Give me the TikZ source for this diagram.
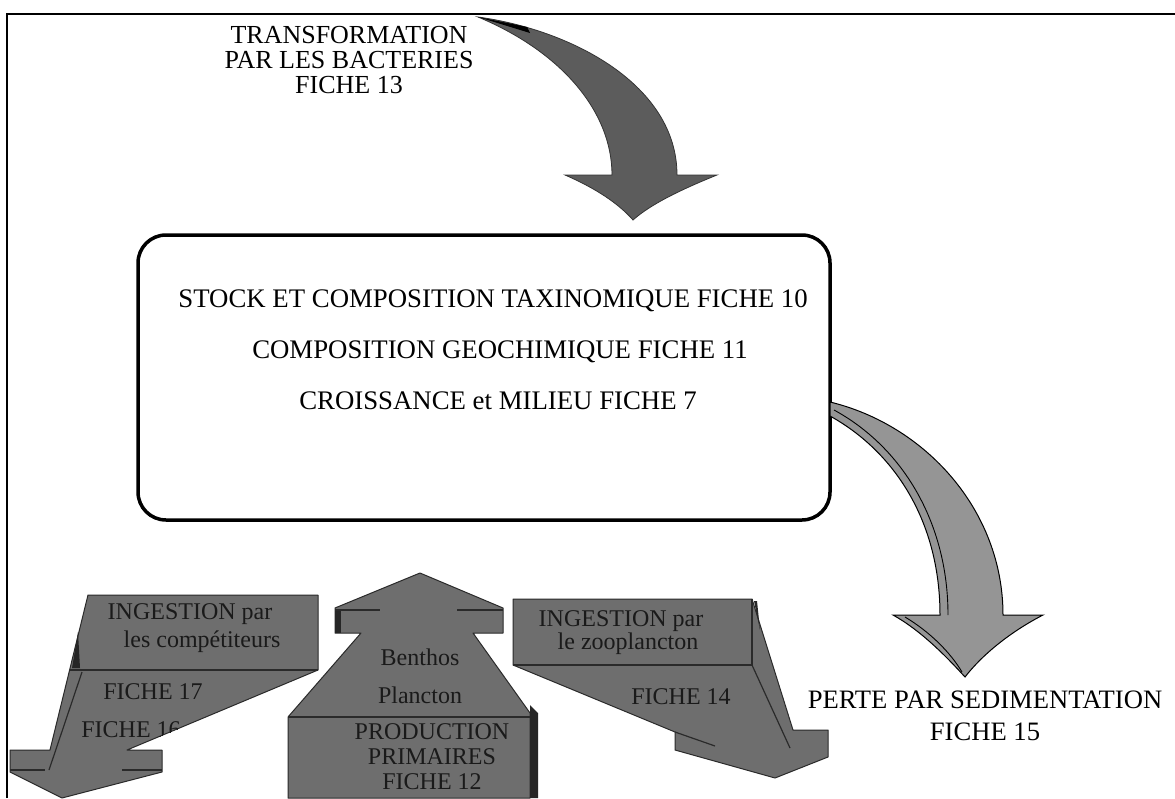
\documentclass[tikz,border=0pt]{standalone}
\usepackage{fontspec}
\setmainfont{Liberation Serif}
\newcommand{\myfs}[2]{\fontsize{#1}{#2}\selectfont}
\definecolor{arrowgray}{HTML}{6E6E6E}
\definecolor{topgray}{HTML}{5C5C5C}
\definecolor{sedgray}{HTML}{959595}
\definecolor{edgegray}{HTML}{2A2A2A}
\definecolor{txtdark}{HTML}{1A1A1A}
\tikzset{
  frameline/.style={line width=2pt, draw=black},
  mainbox/.style={draw=black, line width=3.5pt, rounded corners=28pt, fill=white},
  boxtxt/.style={font=\myfs{26.8}{30}, text=black, inner sep=0pt, anchor=east},
  bigtxt/.style={font=\myfs{26}{25}, text=black, align=center, inner sep=0pt},
  darrow/.style={fill=arrowgray, draw=edgegray, line width=1pt, line join=round},
  dline/.style={draw=edgegray, line width=1.2pt},
  arrtxt/.style={font=\myfs{24}{25}, text=txtdark, align=center, inner sep=0pt},
  toparrowstyle/.style={fill=topgray, draw=black!80, line width=0.8pt},
  sedarrowstyle/.style={fill=sedgray, draw=black, line width=1pt}
}
\begin{document}
\begin{tikzpicture}[x=1pt,y=-1pt]
\useasboundingbox (0,0) rectangle (1175,798);
\fill[white] (0,0) rectangle (1175,798);
% frame
\coordinate (fBL) at (7,798);
\coordinate (fTL) at (7,14);
\coordinate (fTR) at (1175,14);
\draw[frameline] (fBL) -- (fTL) -- (fTR);

% top curved arrow
\filldraw[toparrowstyle] (478,17) .. controls (572,30) and (677,85) .. (677,175)
  -- (717,175) .. controls (685,188) and (652,203) .. (633,220)
  .. controls (618,203) and (595,188) .. (565,175)
  -- (612,175) .. controls (612,112) and (562,52) .. (478,17) -- cycle;
\fill[black] (478,17) -- (527,27) -- (530,33) -- cycle;

% top text
\node[bigtxt] (bact) at (349,60) {TRANSFORMATION\\PAR LES BACTERIES\\FICHE 13};

% main box
\node[mainbox, minimum width=692pt, minimum height=285pt] (box) at (484,377.5) {};
\node[boxtxt] (t1) at (808,301) {STOCK ET COMPOSITION TAXINOMIQUE FICHE 10};
\node[boxtxt] (t2) at (748,352) {COMPOSITION GEOCHIMIQUE FICHE 11};
\node[boxtxt] (t3) at (697,401) {CROISSANCE et MILIEU FICHE 7};

% right curved arrow (sedimentation)
\filldraw[sedarrowstyle] (830,402) .. controls (925,425) and (1003,510) .. (1003,615)
  -- (1043,615) .. controls (1010,632) and (982,655) .. (965,677)
  .. controls (945,655) and (920,630) .. (893,615)
  -- (940,615) .. controls (940,522) and (895,452) .. (830,416) -- cycle;
\draw[black, line width=0.9pt] (834,410) .. controls (902,447) and (948,522) .. (948,615);
\draw[black, line width=0.9pt] (905,617) .. controls (930,632) and (950,652) .. (962,672);

\node[bigtxt, font=\myfs{26.6}{32}] (sed) at (985,716) {PERTE PAR SEDIMENTATION\\FICHE 15};

% ---- bottom left 3D arrow
\filldraw[darrow] (88,595) -- (318,595) -- (318,670) -- (127,750) -- (162,750) -- (162,772)
  -- (62,798) -- (10,772) -- (10,750) -- (50,750) -- cycle;
\draw[dline] (70,670) -- (318,670);
\draw[dline] (82,672) -- (49,770);
\draw[dline] (10,770) -- (45,770);
\draw[dline] (122,770) -- (162,770);
\fill[black!85] (78,632) -- (72,668) -- (80,668) -- cycle;
\begin{scope}
  \clip (88,595) -- (318,595) -- (318,670) -- (127,750) -- (162,750) -- (162,772)
  -- (62,798) -- (10,772) -- (10,750) -- (50,750) -- cycle;
  \node[arrtxt] (lg1) at (190,614) {INGESTION par};
  \node[arrtxt] (lg2) at (202,642) {les compétiteurs};
  \node[arrtxt] (lg3) at (153,692) {FICHE 17};
  \node[arrtxt] (lg4) at (131,730) {FICHE 16};
\end{scope}

% ---- bottom middle 3D arrow (up)
\filldraw[darrow] (288,798) -- (288,717) -- (361,633) -- (335,633) -- (335,608) -- (420,573)
  -- (503,608) -- (503,633) -- (473,633) -- (530,713) -- (530,798) -- cycle;
\fill[black!85] (530,705) -- (538,713) -- (538,798) -- (530,798) -- cycle;
\fill[black!85] (335,610) rectangle (341,633);
\draw[dline] (288,717) -- (530,717);
\draw[dline] (335,610) -- (380,610);
\draw[dline] (457,610) -- (503,610);
\node[arrtxt] (mb1) at (420,657) {Benthos};
\node[arrtxt] (mb2) at (420,695) {Plancton};
\node[arrtxt] (mb3) at (432,757) {PRODUCTION\\PRIMAIRES\\FICHE 12};

% ---- bottom right 3D arrow
\filldraw[darrow] (513,599) -- (752,599) -- (793,730) -- (828,730) -- (828,757) -- (775,778)
  -- (675,750) -- (675,732) -- (513,665) -- cycle;
\draw[dline] (513,665) -- (752,665) -- (752,599);
\draw[dline] (752,665) -- (790,748);
\draw[dline] (675,732) -- (715,746);
\fill[black!85] (754,601) -- (760,630) -- (757,601) -- cycle;
\node[arrtxt] (rg1) at (621,621) {INGESTION par};
\node[arrtxt] (rg2) at (628,644) {le zooplancton};
\node[arrtxt] (rg3) at (681,697) {FICHE 14};
\end{tikzpicture}
\end{document}
